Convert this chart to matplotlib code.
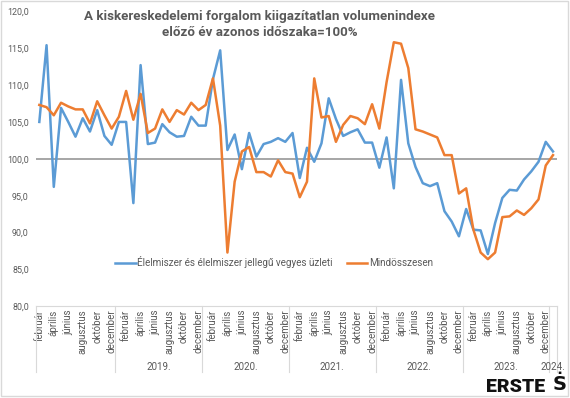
import matplotlib
matplotlib.use("Agg")
import matplotlib.pyplot as plt
import matplotlib.transforms as mtransforms
from matplotlib.patches import Rectangle

plt.rcParams['font.family'] = ['Roboto', 'DejaVu Sans']

# ---- data ----
month_names = ['január', 'február', 'március', 'április', 'május', 'június',
               'július', 'augusztus', 'szeptember', 'október', 'november', 'december']
start_month = 1  # február 2018 (index into month_names)
year_labels = ['', '2019.', '2020.', '2021.', '2022.', '2023.', '2024.']
year_counts = [11, 12, 12, 12, 12, 12, 1]

elelmiszer = [105.0, 115.4, 96.2, 106.9, 105.0, 103.0, 105.5, 103.7, 106.6, 103.1, 101.9,
              105.0, 105.0, 94.0, 112.7, 102.0, 102.2, 104.7, 103.6, 103.0, 103.1, 105.7, 104.5,
              104.5, 110.8, 114.7, 101.2, 103.3, 98.6, 103.5, 100.3, 102.0, 102.3, 102.8, 102.3,
              103.5, 97.4, 101.5, 99.6, 102.1, 108.2, 105.4, 103.1, 103.6, 104.0, 102.2, 102.2,
              98.8, 102.9, 96.0, 110.7, 102.1, 98.9, 96.7, 96.3, 96.7, 92.9, 91.5, 89.5,
              93.2, 90.4, 90.3, 87.1, 91.3, 94.7, 95.8, 95.7, 97.2, 98.3, 99.6, 102.3,
              101.0]
mindosszesen = [107.3, 107.0, 105.9, 107.6, 107.1, 106.7, 106.7, 104.8, 107.8, 105.9, 104.1,
                105.7, 109.2, 105.3, 108.8, 103.5, 104.1, 106.7, 105.0, 106.6, 106.0, 107.6, 106.6,
                107.3, 110.9, 104.5, 87.3, 96.9, 101.0, 101.6, 98.2, 98.2, 97.6, 99.8, 98.2,
                98.0, 94.8, 96.9, 110.9, 105.6, 105.8, 102.3, 104.6, 105.8, 105.5, 104.7, 107.4,
                104.1, 110.4, 115.8, 115.6, 112.3, 104.0, 103.7, 103.3, 102.9, 100.5, 100.5, 95.3,
                96.0, 90.4, 87.3, 86.4, 87.3, 92.1, 92.2, 93.0, 92.4, 93.3, 94.5, 99.1,
                100.5]
series_names = ['Élelmiszer és élelmiszer jellegű vegyes üzleti', 'Mindösszesen']
title_text = 'A kiskereskedelemi forgalom kiigazítatlan volumenindexe\nelőző év azonos időszaka=100%'
yticks = [80, 85, 90, 95, 100, 105, 110, 115, 120]

n = len(elelmiszer)
x = list(range(n))
cat_labels = [month_names[(start_month + i) % 12] for i in range(n)]

# ---- figure ----
W, H = 570, 398
fig = plt.figure(figsize=(W / 100, H / 100), dpi=100)
fig.patch.set_facecolor('white')
fig.patches.append(Rectangle((0.002, 0.004), 0.994, 0.993, transform=fig.transFigure,
                             fill=False, edgecolor='#D9D9D9', linewidth=1.0))

left = 35.7 / W
right = 556.6 / W
bottom = (H - 306.4) / H
top = (H - 11.25) / H
ax = fig.add_axes([left, bottom, right - left, top - bottom])

gray_txt = '#595959'
ax.axhline(100, color='#A6A6A6', linewidth=1.4, zorder=1)
ax.plot(x, elelmiszer, color='#5B9BD5', linewidth=1.8, label=series_names[0],
        solid_joinstyle='round', zorder=3)
ax.plot(x, mindosszesen, color='#ED7D31', linewidth=1.8, label=series_names[1],
        solid_joinstyle='round', zorder=4)

ax.set_xlim(-0.5, n - 0.5)
ax.set_ylim(80, 120)
ax.set_yticks(yticks)
ax.set_yticklabels([f'{v:.1f}'.replace('.', ',') for v in yticks], fontsize=6.4, color=gray_txt)
ax.tick_params(axis='y', length=0, pad=5)

ax.set_xticks(x)
ax.set_xticklabels([lab if i % 2 == 0 else '' for i, lab in enumerate(cat_labels)],
                   rotation=90, fontsize=7.0, color=gray_txt, va='top', ha='center')
ax.tick_params(axis='x', length=0, pad=2.2)

for s in ['left', 'right', 'top']:
    ax.spines[s].set_visible(False)
ax.spines['bottom'].set_color('#D9D9D9')
ax.spines['bottom'].set_linewidth(0.8)

# year group separators and labels
trans = mtransforms.blended_transform_factory(ax.transData, ax.transAxes)
boundary = -0.5
ax.plot([boundary, boundary], [0, -0.222], transform=trans, color='#D9D9D9',
        linewidth=0.8, clip_on=False)
for lab, cnt in zip(year_labels, year_counts):
    start = boundary
    boundary = boundary + cnt
    ax.plot([boundary, boundary], [0, -0.222], transform=trans, color='#D9D9D9',
            linewidth=0.8, clip_on=False)
    if lab:
        ax.text((start + boundary) / 2, -0.204, lab, transform=trans, ha='center',
                va='center', fontsize=7.0, color=gray_txt)

fig.text(260 / W, (H - 24.5) / H, title_text, ha='center', va='center', fontsize=9.6,
         fontweight='bold', color=gray_txt, linespacing=1.35)

fig.legend(loc='center', bbox_to_anchor=(274 / W, (H - 262.5) / H), ncol=2, frameon=False,
           fontsize=7.1, handlelength=2.1, handletextpad=0.15, columnspacing=1.4,
           labelcolor=gray_txt, borderaxespad=0)

# logo
fig.text(516 / W, (H - 387) / H, 'ERSTE', ha='center', va='center', fontsize=14,
         fontweight='black', color='#111111')
fig.text(560 / W, (H - 385) / H, 'Ṡ', ha='center', va='center', fontsize=14,
         fontweight='bold', color='#111111', family=['DejaVu Sans'])

fig.savefig('out.png', dpi=100, facecolor='white')
